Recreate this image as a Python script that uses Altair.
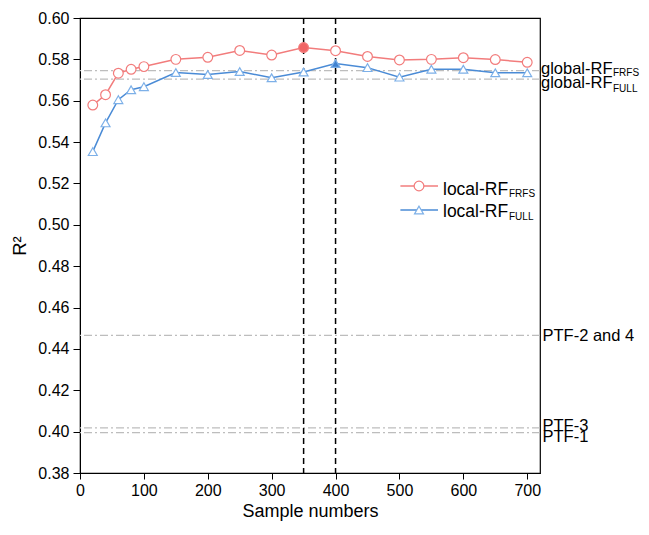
import altair as alt
import pandas as pd

# ---------------- data ----------------
sample_n = [20, 40, 60, 80, 100, 150, 200, 250, 300, 350, 400, 450, 500, 550, 600, 650, 700]
r2_frfs = [0.5579, 0.5629, 0.5733, 0.5752, 0.5765, 0.5800, 0.5810, 0.5843, 0.5821,
           0.5857, 0.5842, 0.5814, 0.5797, 0.5800, 0.5808, 0.5799, 0.5786]
r2_full = [0.5354, 0.5493, 0.5605, 0.5653, 0.5668, 0.5736, 0.5727, 0.5741, 0.5711,
           0.5739, 0.5780, 0.5760, 0.5714, 0.5752, 0.5752, 0.5735, 0.5735]

ref_main = ["global-RF", "global-RF", "PTF-2 and 4", "PTF-3", "PTF-1"]
ref_sub = ["FRFS", "FULL", "", "", ""]
ref_r2 = [0.5746, 0.5704, 0.4465, 0.4018, 0.3995]

x_ticks = [0, 100, 200, 300, 400, 500, 600, 700]
y_ticks = [0.38, 0.40, 0.42, 0.44, 0.46, 0.48, 0.50, 0.52, 0.54, 0.56, 0.58, 0.60]

legend_main = ["local-RF", "local-RF"]
legend_sub = ["FRFS", "FULL"]

# ---------------- styles ----------------
RED = "#F27C7C"
RED_FILL = "#F06464"
BLUE = "#4A8BD6"
BLUE_MK = "#7DB0E8"
BLUE_FILL = "#3F82D1"
GRAY = "#BDBDBD"
FONT = "Liberation Sans"

df_frfs = pd.DataFrame({"n": sample_n, "r2": r2_frfs})
df_frfs["best"] = df_frfs["r2"] == df_frfs["r2"].max()
df_full = pd.DataFrame({"n": sample_n, "r2": r2_full})
df_full["best"] = df_full["r2"] == df_full["r2"].max()
df_ref = pd.DataFrame({"name": ref_main, "sub": ref_sub, "r2": ref_r2})
df_best = pd.DataFrame({"n": [int(df_frfs.loc[df_frfs.best, "n"].iloc[0]),
                              int(df_full.loc[df_full.best, "n"].iloc[0])]})

xscale = alt.Scale(domain=[0, 720], nice=False, zero=False)
yscale = alt.Scale(domain=[0.38, 0.60], nice=False, zero=False)

x_axis = alt.Axis(values=x_ticks, title="Sample numbers", grid=False, labelFlush=False,
                  tickSize=6, labelPadding=3, labelFontSize=16, titleFontSize=18,
                  titleFontWeight="normal", titlePadding=4, domainColor="black",
                  tickColor="black", labelColor="black", titleColor="black")
y_axis = alt.Axis(values=y_ticks, format=".2f", title="R²", grid=False,
                  tickSize=7, labelPadding=4, labelFontSize=16, titleFontSize=18.5,
                  titleFontWeight="normal", titlePadding=8, domainColor="black",
                  tickColor="black", labelColor="black", titleColor="black")


def X(field=None, datum=None):
    if datum is not None:
        return alt.X(datum=datum, type="quantitative", scale=xscale, axis=x_axis,
                     title="Sample numbers")
    return alt.X(field, type="quantitative", scale=xscale, axis=x_axis,
                 title="Sample numbers")


def Y(field=None, datum=None):
    if datum is not None:
        return alt.Y(datum=datum, type="quantitative", scale=yscale, axis=y_axis, title="R²")
    return alt.Y(field, type="quantitative", scale=yscale, axis=y_axis, title="R²")


# reference (dash-dot) lines
ref_lines = alt.Chart(df_ref).mark_rule(color=GRAY, strokeWidth=1.2,
                                         strokeDash=[8, 3, 2, 3]).encode(y=Y("r2"))

# vertical dashed lines at optimum sample numbers
vlines = alt.Chart(df_best).mark_rule(color="black", strokeWidth=1.5,
                                       strokeDash=[6, 4]).encode(x=X("n"))

line_frfs = alt.Chart(df_frfs).mark_line(color=RED, strokeWidth=1.5).encode(
    x=X("n"), y=Y("r2"))
line_full = alt.Chart(df_full).mark_line(color=BLUE, strokeWidth=1.5).encode(
    x=X("n"), y=Y("r2"))

pts_frfs = alt.Chart(df_frfs).mark_point(shape="circle", size=95, strokeWidth=1.2,
                                          stroke=RED, opacity=1, filled=False).encode(
    x=X("n"), y=Y("r2"),
    fill=alt.condition("datum.best", alt.value(RED_FILL), alt.value("white")),
)
pts_full = alt.Chart(df_full).mark_point(shape="triangle-up", size=80, strokeWidth=1.2,
                                          stroke=BLUE_MK, opacity=1, filled=False).encode(
    x=X("n"), y=Y("r2"),
    fill=alt.condition("datum.best", alt.value(BLUE_FILL), alt.value("white")),
)

layers = [ref_lines, vlines, line_frfs, line_full, pts_frfs, pts_full]

# right-hand labels for reference lines (main text + subscript)
label_style = [
    # (main size, main dx, main dy, sub size, sub dx, sub dy)
    (16.5, 1, 3.7, 10, 73, 5.5),
    (16.5, 1, 9.0, 10, 73, 12.5),
    (16.5, 2.5, 6.0, 10, 0, 0),
    (16.5, 2.5, 3.0, 10, 0, 0),
    (16.5, 2.5, 9.3, 10, 0, 0),
]
for (name, sub, val), (ms, mdx, mdy, ss, sdx, sdy) in zip(
        zip(ref_main, ref_sub, ref_r2), label_style):
    layers.append(
        alt.Chart(df_ref.iloc[:1]).mark_text(
            text=name, align="left", baseline="alphabetic", fontSize=ms, dx=mdx, dy=mdy,
            color="black", font=FONT).encode(x=X(datum=720), y=Y(datum=val))
    )
    if sub:
        layers.append(
            alt.Chart(df_ref.iloc[:1]).mark_text(
                text=sub, align="left", baseline="alphabetic", fontSize=ss, dx=sdx, dy=sdy,
                color="black", font=FONT).encode(x=X(datum=720), y=Y(datum=val))
        )

# manual legend (to allow subscripts)
leg_rows = [(168.0, RED, "circle", RED, 95), (192.0, BLUE, "triangle-up", BLUE_MK, 80)]
leg_text_dy = [(9.4, 11.0), (7.0, 10.0)]
for (yy, lc, shp, mc, sz), main, sub, (tdy, sdy) in zip(leg_rows, legend_main, legend_sub, leg_text_dy):
    layers.append(alt.Chart(df_ref.iloc[:1]).mark_rule(color=lc, strokeWidth=1.5).encode(
        x=alt.value(320.4), x2=alt.value(358), y=alt.value(yy)))
    layers.append(alt.Chart(df_ref.iloc[:1]).mark_point(
        shape=shp, size=sz, stroke=mc, fill="white", strokeWidth=1.2, opacity=1,
        filled=False).encode(x=alt.value(339), y=alt.value(yy)))
    layers.append(alt.Chart(df_ref.iloc[:1]).mark_text(
        text=main, align="left", baseline="alphabetic", fontSize=17.5, dy=tdy,
        color="black", font=FONT).encode(x=alt.value(363), y=alt.value(yy)))
    layers.append(alt.Chart(df_ref.iloc[:1]).mark_text(
        text=sub, align="left", baseline="alphabetic", fontSize=10, dy=sdy,
        color="black", font=FONT).encode(x=alt.value(429), y=alt.value(yy)))

chart = alt.layer(*layers).properties(
    width=460, height=455,
    autosize=alt.AutoSizeParams(type="none"),
    padding={"left": 72, "top": 10, "right": 101, "bottom": 54},
).configure(font=FONT).configure_view(
    stroke="black", strokeWidth=1.2
).configure_axis(labelFont=FONT, titleFont=FONT)

chart.save("out.html", embed_options={"renderer": "svg", "actions": False})
